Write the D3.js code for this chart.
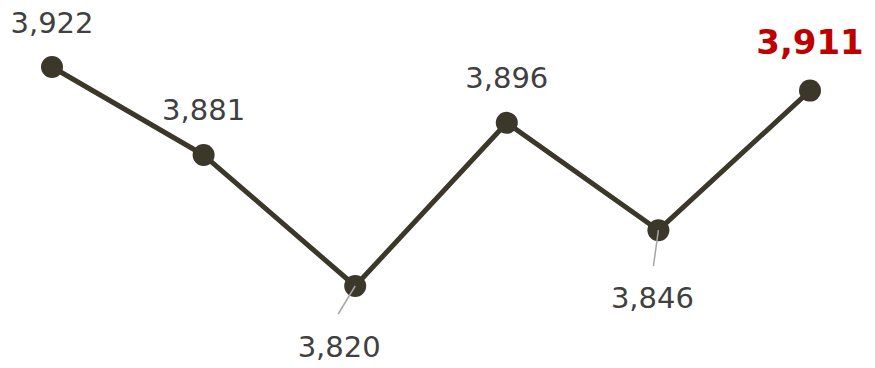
<!DOCTYPE html>
<html><head><meta charset="utf-8">
<script src="https://cdn.jsdelivr.net/npm/d3@7"></script>
<style>body{margin:0;background:#fff}svg{display:block}</style>
</head><body>
<svg id="c" width="875" height="368"></svg>
<script>
const categories = ["1","2","3","4","5","6"];
const values = [3922, 3881, 3820, 3896, 3846, 3911];
const labels = ["3,922","3,881","3,820","3,896","3,846","3,911"];

// layout (label offsets relative to point)
const labelLayout = [
  {dx:0, dy:-34},
  {dx:0, dy:-35},
  {dx:-16, dy:71, lx:-17, ly:28},
  {dx:0, dy:-35},
  {dx:-6, dy:78, lx:-5, ly:36},
  {dx:0, dy:-37, highlight:true}
];

const svg = d3.select("#c");
const x = d3.scalePoint().domain(categories).range([52, 810]);
const y = d3.scaleLinear().domain([3820, 3922]).range([286, 67]);
const data = categories.map((c,i)=>({c, v:values[i], t:labels[i], L:labelLayout[i]}));

const line = d3.line().x(d=>x(d.c)).y(d=>y(d.v));

svg.append("path").datum(data).attr("d",line)
  .attr("fill","none").attr("stroke","#3b3729").attr("stroke-width",5)
  .attr("stroke-linejoin","round");

svg.selectAll("circle").data(data).enter().append("circle")
  .attr("cx",d=>x(d.c)).attr("cy",d=>y(d.v)).attr("r",11)
  .attr("fill","#3b3729");

svg.selectAll("line.leader").data(data.filter(d=>d.L.lx!==undefined)).enter()
  .append("line").attr("class","leader")
  .attr("x1",d=>x(d.c)).attr("y1",d=>y(d.v))
  .attr("x2",d=>x(d.c)+d.L.lx).attr("y2",d=>y(d.v)+d.L.ly)
  .attr("stroke","#a6a6a6").attr("stroke-width",1.5);

svg.selectAll("text").data(data).enter().append("text")
  .attr("x",d=>x(d.c)+d.L.dx).attr("y",d=>y(d.v)+d.L.dy)
  .attr("text-anchor","middle")
  .attr("font-family","DejaVu Sans, Verdana, sans-serif")
  .attr("font-size",d=>d.L.highlight?34:29)
  .attr("font-weight",d=>d.L.highlight?"bold":"normal")
  .attr("fill",d=>d.L.highlight?"#c00000":"#404040")
  .text(d=>d.t);
</script>
</body></html>
